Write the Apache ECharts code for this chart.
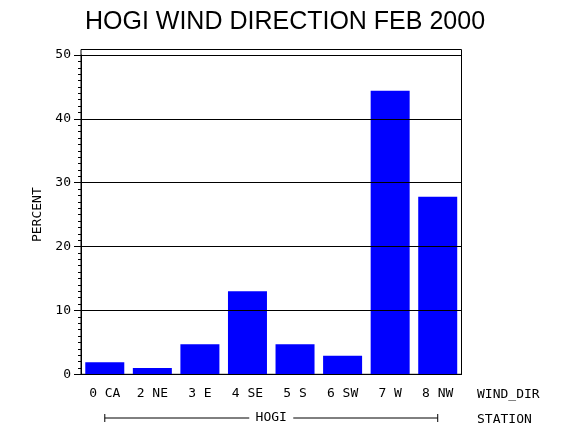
<!DOCTYPE html>
<html>
<head>
<meta charset="utf-8">
<script src="https://cdn.jsdelivr.net/npm/echarts@6/dist/echarts.min.js"></script>
<style>
  html, body { margin: 0; padding: 0; background: #fff; }
  #chart { width: 570px; height: 430px; }
</style>
</head>
<body>
<div id="chart"></div>
<script>
// wind direction categories and percent of hours
var windDirs = ['0 CA', '2 NE', '3 E', '4 SE', '5 S', '6 SW', '7 W', '8 NW'];
var percents = [1.9, 1.0, 4.7, 13.0, 4.7, 2.9, 44.4, 27.8];
var yTicks = [0, 10, 20, 30, 40, 50];
var station = 'HOGI';

var monoFont = '"DejaVu Sans Mono", monospace';
var chart = echarts.init(document.getElementById('chart'));

var option = {
  backgroundColor: '#fff',
  animation: false,
  title: [
    {
      text: 'HOGI WIND DIRECTION FEB 2000',
      left: 'center',
      top: 5,
      textStyle: { fontFamily: '"Liberation Sans", Arial', fontWeight: 'normal', fontSize: 25, color: '#000' }
    },
    {
      text: 'WIND_DIR',
      left: 472,
      top: 383,
      textStyle: { fontFamily: monoFont, fontWeight: 'normal', fontSize: 13, color: '#000' }
    },
    {
      text: 'STATION',
      left: 472,
      top: 408,
      textStyle: { fontFamily: monoFont, fontWeight: 'normal', fontSize: 13, color: '#000' }
    }
  ],
  grid: [
    // frame only
    { left: 81, right: 108.5, top: 49.5, bottom: 55.7, show: true, borderColor: '#000', borderWidth: 1, backgroundColor: 'transparent' },
    // data area
    { left: 81, right: 108.5, top: 55, bottom: 55.7 }
  ],
  xAxis: [
    { gridIndex: 0, type: 'value', show: false },
    {
      gridIndex: 1,
      type: 'category',
      data: windDirs,
      axisLine: { lineStyle: { color: '#000', width: 1 } },
      axisTick: { show: false },
      axisLabel: { margin: 13, color: '#000', fontFamily: monoFont, fontSize: 13 }
    }
  ],
  yAxis: [
    { gridIndex: 0, type: 'value', show: false },
    {
      gridIndex: 1,
      type: 'value',
      min: yTicks[0],
      max: yTicks[yTicks.length - 1],
      interval: 10,
      z: 5,
      name: 'PERCENT',
      nameLocation: 'middle',
      nameGap: 30,
      nameTextStyle: { fontFamily: monoFont, fontSize: 13, color: '#000' },
      axisLine: { show: true, lineStyle: { color: '#000', width: 1 } },
      axisTick: { show: true, length: 7, lineStyle: { color: '#000' } },
      minorTick: { show: true, splitNumber: 10, length: 3, lineStyle: { color: '#000' } },
      axisLabel: { margin: 10, color: '#000', fontFamily: monoFont, fontSize: 13 },
      splitLine: { show: true, lineStyle: { color: '#000', width: 1 } }
    }
  ],
  series: [
    {
      type: 'bar',
      xAxisIndex: 1,
      yAxisIndex: 1,
      data: percents,
      barWidth: 39,
      itemStyle: { color: '#0000ff' }
    }
  ]
};

chart.setOption(option);

// station bracket under the category labels, spanning first to last bar
var x0 = chart.convertToPixel({ xAxisIndex: 1 }, windDirs[0]);
var x1 = chart.convertToPixel({ xAxisIndex: 1 }, windDirs[windDirs.length - 1]);
var xm = (x0 + x1) / 2;
var by = 418;
var gap = 22;
var ls = { stroke: '#000', lineWidth: 1 };
chart.setOption({
  graphic: [
    { type: 'line', shape: { x1: x0, y1: by, x2: xm - gap, y2: by }, style: ls },
    { type: 'line', shape: { x1: xm + gap, y1: by, x2: x1, y2: by }, style: ls },
    { type: 'line', shape: { x1: x0, y1: by - 4, x2: x0, y2: by + 4 }, style: ls },
    { type: 'line', shape: { x1: x1, y1: by - 4, x2: x1, y2: by + 4 }, style: ls },
    {
      type: 'text', x: xm, y: by,
      style: { text: station, fill: '#000', font: '13px ' + monoFont, textAlign: 'center', textVerticalAlign: 'middle' }
    }
  ]
});
</script>
</body>
</html>
